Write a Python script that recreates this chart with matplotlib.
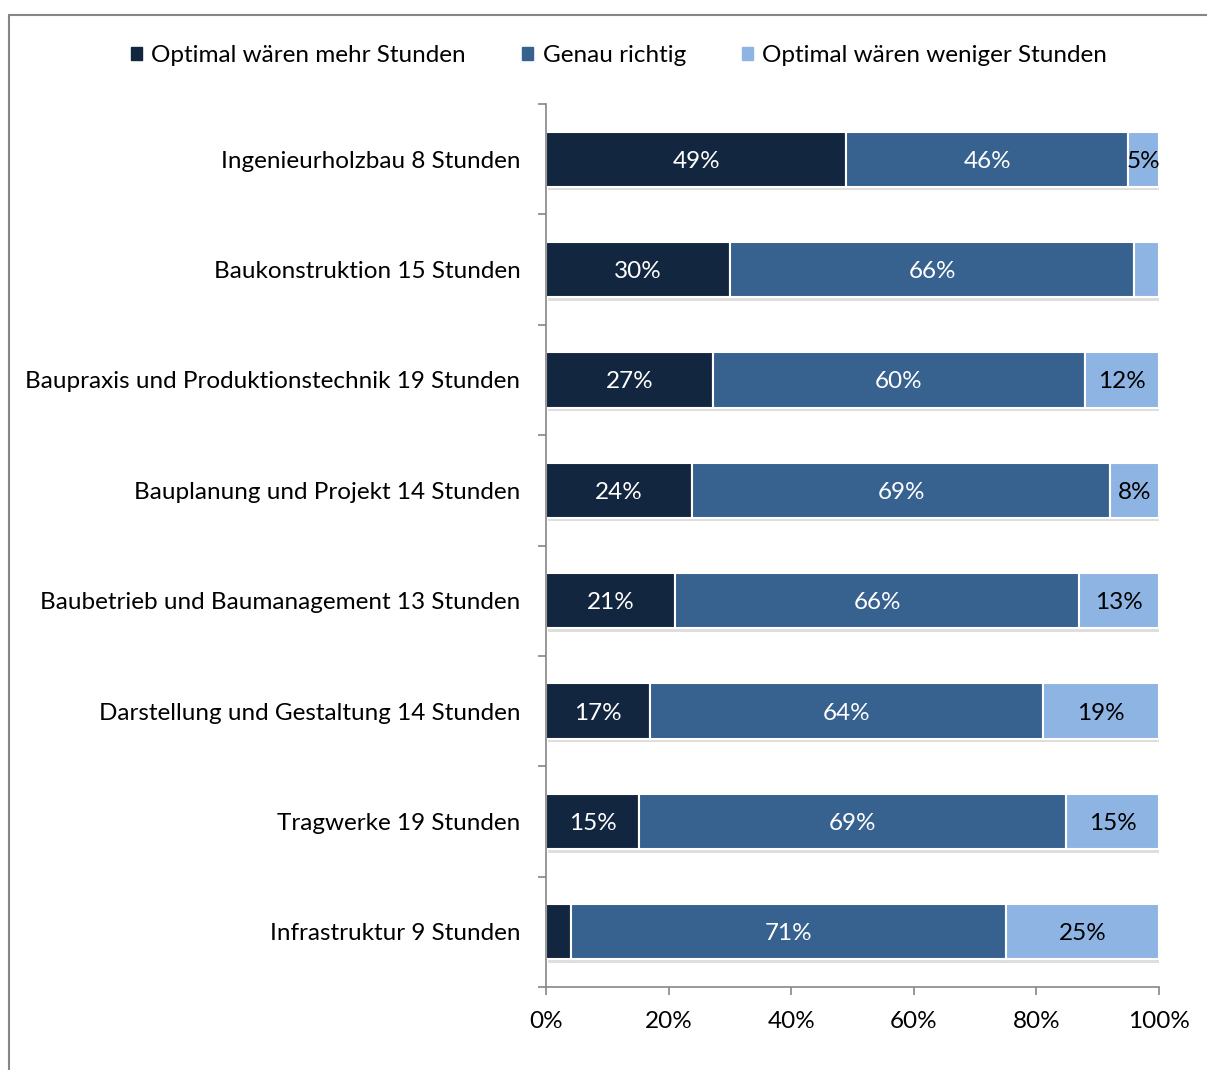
import matplotlib
matplotlib.use("Agg")
import matplotlib.pyplot as plt
import matplotlib.patheffects as pe
from matplotlib.patches import Rectangle
from matplotlib.ticker import FixedLocator, PercentFormatter

plt.rcParams['font.family'] = ['Lato', 'DejaVu Sans']

categories = [
    "Ingenieurholzbau 8 Stunden",
    "Baukonstruktion 15 Stunden",
    "Baupraxis und Produktionstechnik 19 Stunden",
    "Bauplanung und Projekt 14 Stunden",
    "Baubetrieb und Baumanagement 13 Stunden",
    "Darstellung und Gestaltung 14 Stunden",
    "Tragwerke 19 Stunden",
    "Infrastruktur 9 Stunden",
]
series_names = ["Optimal wären mehr Stunden", "Genau richtig", "Optimal wären weniger Stunden"]
mehr = [49, 30, 27, 24, 21, 17, 15, 4]
richtig = [46, 66, 60, 69, 66, 64, 69, 71]
weniger = [5, 4, 12, 8, 13, 19, 15, 25]
# labels shown (None = no label)
mehr_labels = ["49%", "30%", "27%", "24%", "21%", "17%", "15%", None]
richtig_labels = ["46%", "66%", "60%", "69%", "66%", "64%", "69%", "71%"]
weniger_labels = ["5%", None, "12%", "8%", "13%", "19%", "15%", "25%"]

colors = ["#13263F", "#37618F", "#8EB4E3"]
text_colors = ["white", "white", "black"]
FS = 17.5

# 100 % stacked: each row is scaled to its total
totals = [a + b + c for a, b, c in zip(mehr, richtig, weniger)]
def share(vals):
    return [100 * v / t for v, t in zip(vals, totals)]

fig = plt.figure(figsize=(12.07, 10.70), dpi=100)
ax = fig.add_axes([546/1207, 1-987/1070, 613/1207, 883/1070])

y = list(range(len(categories)))
shadow = [pe.SimplePatchShadow(offset=(1.5, -2.5), shadow_rgbFace="#000000", alpha=0.13), pe.Normal()]
left = [0]*len(categories)
for vals, labs, col, tcol, name in zip([mehr, richtig, weniger],
                                       [mehr_labels, richtig_labels, weniger_labels],
                                       colors, text_colors, series_names):
    w = share(vals)
    bars = ax.barh(y, w, left=left, height=0.5, color=col, edgecolor="white",
                   linewidth=1.5, label=name)
    for b in bars:
        b.set_path_effects(shadow)
    for yi, v, l, lab in zip(y, w, left, labs):
        if lab:
            ax.text(l + v/2, yi, lab, ha="center", va="center_baseline", color=tcol, fontsize=FS)
    left = [a+b for a, b in zip(left, w)]

ax.set_xlim(0, 100)
ax.set_ylim(len(categories)-0.5, -0.5)
ax.set_yticks(y)
ax.set_yticklabels(categories, fontsize=FS)
ax.yaxis.set_minor_locator(FixedLocator([i-0.5 for i in range(len(categories)+1)]))
ax.tick_params(axis="y", which="major", length=0, pad=18.5)
ax.tick_params(axis="y", which="minor", length=6, color="#868686", width=1.2)
ax.set_xticks([0, 20, 40, 60, 80, 100])
ax.xaxis.set_major_formatter(PercentFormatter(decimals=0))
ax.tick_params(axis="x", length=6, color="#868686", width=1.2, labelsize=FS, pad=11)
for s in ["top", "right"]:
    ax.spines[s].set_visible(False)
for s in ["left", "bottom"]:
    ax.spines[s].set_color("#868686")
    ax.spines[s].set_linewidth(1.2)

handles = [Rectangle((0, 0), 1, 1, color=c) for c in colors]
fig.legend(handles, series_names, loc="center", bbox_to_anchor=(619/1207, 1-55.5/1070),
           ncol=3, frameon=False, fontsize=FS, handlelength=0.45, handleheight=0.45,
           handletextpad=0.4, columnspacing=2.3)

fig.add_artist(Rectangle((9/1207, -0.05), 1.1, 1-15/1070+0.05, transform=fig.transFigure,
                         fill=False, edgecolor="#868686", linewidth=1.5))

fig.savefig("out.png", dpi=100)
